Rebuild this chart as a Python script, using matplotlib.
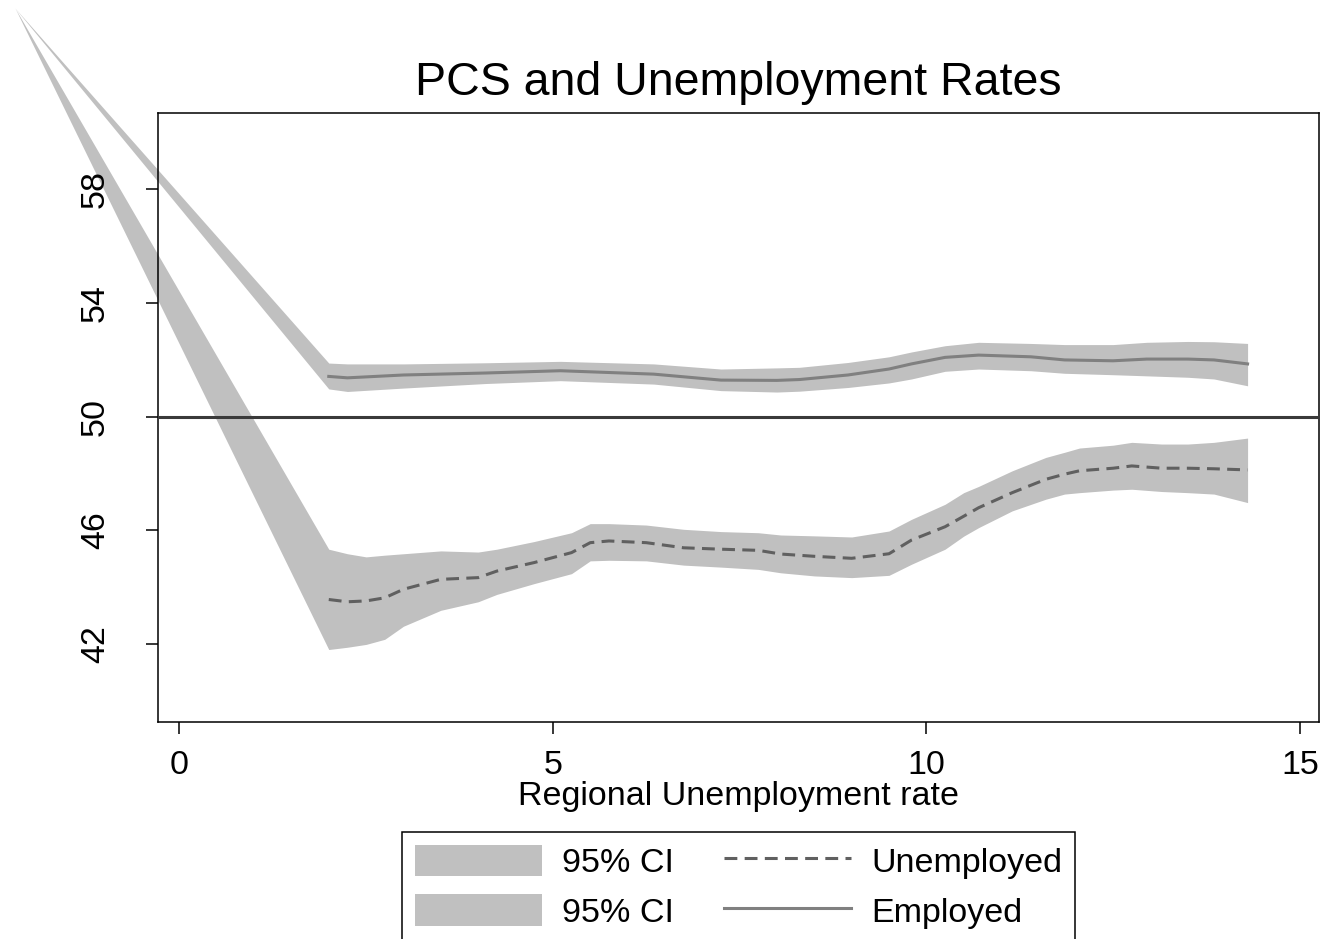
import matplotlib
matplotlib.use("Agg")
import matplotlib.pyplot as plt
from matplotlib.patches import Patch
from matplotlib.lines import Line2D

plt.rcParams['font.family'] = ['Liberation Sans', 'DejaVu Sans']

# Regional unemployment rate grid and fitted PCS for unemployed respondents
unemp_x = [2.0, 2.25, 2.5, 2.75, 3.0, 3.5, 4.0, 4.25, 4.75, 5.25, 5.5, 5.75,
           6.25, 6.75, 7.25, 7.75, 8.05, 8.5, 9.0, 9.5, 9.8, 10.25, 10.5,
           10.7, 11.15, 11.6, 11.85, 12.05, 12.5, 12.75, 13.15, 13.5, 13.85, 14.3]
unemp_fit = [43.57, 43.49, 43.52, 43.63, 43.93, 44.28, 44.34, 44.57, 44.87,
             45.22, 45.57, 45.63, 45.57, 45.39, 45.34, 45.30, 45.17, 45.09,
             45.02, 45.18, 45.66, 46.13, 46.50, 46.80, 47.33, 47.80, 47.98,
             48.10, 48.19, 48.27, 48.19, 48.19, 48.17, 48.13]
unemp_hi = [45.34, 45.18, 45.07, 45.13, 45.18, 45.28, 45.24, 45.34, 45.61,
            45.92, 46.24, 46.24, 46.19, 46.04, 45.96, 45.92, 45.84, 45.81,
            45.77, 45.98, 46.39, 46.92, 47.33, 47.55, 48.10, 48.57, 48.75,
            48.90, 49.00, 49.10, 49.04, 49.04, 49.10, 49.25]
unemp_lo = [41.81, 41.89, 41.99, 42.17, 42.63, 43.19, 43.49, 43.75, 44.13,
            44.48, 44.93, 44.95, 44.93, 44.78, 44.71, 44.63, 44.51, 44.40,
            44.34, 44.42, 44.81, 45.34, 45.80, 46.10, 46.69, 47.10, 47.28,
            47.33, 47.42, 47.45, 47.37, 47.33, 47.28, 46.98]

# Fitted PCS for employed respondents
emp_x = [2.0, 2.25, 3.0, 4.1, 5.1, 6.35, 7.25, 8.0, 8.3, 8.95, 9.5, 9.8,
         10.25, 10.7, 11.4, 11.85, 12.5, 12.95, 13.5, 13.85, 14.3]
emp_fit = [51.42, 51.37, 51.47, 51.54, 51.62, 51.50, 51.29, 51.28, 51.31,
           51.47, 51.68, 51.86, 52.09, 52.17, 52.11, 52.00, 51.97, 52.03,
           52.03, 52.00, 51.86]
emp_hi = [51.89, 51.86, 51.86, 51.90, 51.95, 51.86, 51.68, 51.72, 51.74,
          51.91, 52.11, 52.28, 52.50, 52.62, 52.58, 52.54, 52.54, 52.62,
          52.65, 52.64, 52.58]
emp_lo = [50.98, 50.89, 51.01, 51.17, 51.27, 51.15, 50.92, 50.87, 50.90,
          51.03, 51.19, 51.33, 51.60, 51.68, 51.62, 51.53, 51.48, 51.44,
          51.39, 51.33, 51.09]

# Leading point shared by both confidence bands
ci_start_x = -2.2
ci_start_y = 64.38

ref_level = 50
x_ticks = [0, 5, 10, 15]
y_ticks = [42, 46, 50, 54, 58]

title = "PCS and Unemployment Rates"
x_label = "Regional Unemployment rate"
labels = ["95% CI", "95% CI", "Unemployed", "Employed"]

CI_COLOR = "#c0c0c0"
DASH_COLOR = "#606060"
SOLID_COLOR = "#808080"
REF_COLOR = "#3a3a3a"
FS = 24.5

fig = plt.figure(figsize=(13.23, 9.39), dpi=100)
ax = fig.add_axes([0.1192, 0.2311, 0.9972 - 0.1192, 0.880 - 0.2311])

# confidence bands (allowed to run past the plot frame)
ax.fill_between([ci_start_x] + unemp_x, [ci_start_y] + unemp_lo,
                [ci_start_y] + unemp_hi, color=CI_COLOR, lw=0,
                clip_on=False, zorder=1)
ax.fill_between([ci_start_x] + emp_x, [ci_start_y] + emp_lo,
                [ci_start_y] + emp_hi, color=CI_COLOR, lw=0,
                clip_on=False, zorder=1)

# fitted lines
ax.plot(unemp_x, unemp_fit, color=DASH_COLOR, lw=2.2,
        dashes=(4.2, 2.4), zorder=3)
ax.plot(emp_x, emp_fit, color=SOLID_COLOR, lw=2.2, zorder=3)

ax.axhline(ref_level, color=REF_COLOR, lw=2.2, zorder=4)

ax.set_xlim(-0.29, 15.26)
ax.set_ylim(39.26, 60.70)
ax.set_xticks(x_ticks)
ax.set_yticks(y_ticks)
ax.set_xticklabels([str(t) for t in x_ticks])
ax.set_yticklabels([str(t) for t in y_ticks], rotation=90, va="center")

ax.tick_params(axis="both", direction="out", length=8.6, width=1.1,
               labelsize=FS, colors="black")
ax.tick_params(axis="x", pad=11.5)
ax.tick_params(axis="y", pad=25)
for sp in ax.spines.values():
    sp.set_linewidth(1.1)
    sp.set_color("black")

ax.set_xlabel(x_label, fontsize=FS, labelpad=0)
ax.set_title(title, fontsize=33.5, pad=12.7)

handles = [Patch(facecolor=CI_COLOR, edgecolor="none"),
           Patch(facecolor=CI_COLOR, edgecolor="none"),
           Line2D([], [], color=DASH_COLOR, lw=2.2, dashes=(4.2, 2.4)),
           Line2D([], [], color=SOLID_COLOR, lw=2.2)]
leg = fig.legend(handles, labels, ncol=2, loc="upper center",
                 bbox_to_anchor=(738.5 / 1323, 1 - 831.7 / 939),
                 borderaxespad=0, fontsize=FS, frameon=True, fancybox=False,
                 handlelength=3.75, handleheight=1.06, labelspacing=0.44,
                 handletextpad=0.59, columnspacing=1.45, borderpad=0.38)
leg.get_frame().set_edgecolor("black")
leg.get_frame().set_linewidth(1.1)
leg.get_frame().set_alpha(1)

fig.savefig("out.png", dpi=100)
